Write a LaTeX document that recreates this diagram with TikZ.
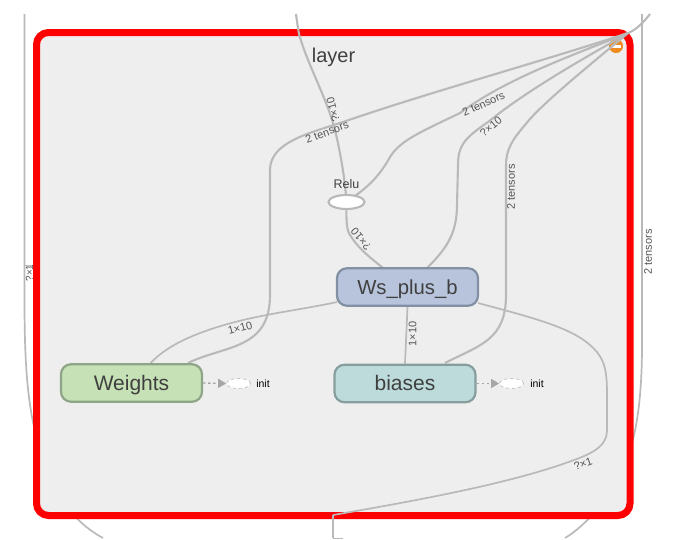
\documentclass[tikz,border=0pt]{standalone}
\usepackage{fontspec}
\setmainfont{Liberation Sans}
\usetikzlibrary{shapes.geometric,arrows.meta}
\definecolor{edgegrey}{HTML}{B9B9B9}
\definecolor{labelgrey}{HTML}{555555}
\definecolor{panel}{HTML}{EEEEEE}
\definecolor{orangemark}{HTML}{EE8A1E}
\definecolor{wsfill}{HTML}{B8C4DC}
\definecolor{wsline}{HTML}{8290A4}
\definecolor{wfill}{HTML}{C5E1B5}
\definecolor{wline}{HTML}{8FA587}
\definecolor{bfill}{HTML}{BDDBDB}
\definecolor{bline}{HTML}{869E9E}
\tikzset{
  x=1pt,y=-1pt,
  opbox/.style={draw,line width=2.2pt,rounded corners=10pt,minimum width=141pt,minimum height=37.5pt,inner sep=0pt,text height=15pt,text depth=1pt,text=black!75,font=\fontsize{21}{21}\selectfont},
  edgeline/.style={draw=edgegrey,line width=2.1pt},
  thinedge/.style={draw=edgegrey,line width=1.7pt},
  edgelabel/.style={text=labelgrey,inner sep=0pt,font=\fontsize{11}{11}\selectfont},
  initellipse/.style={ellipse,draw=black!25,dashed,line width=.7pt,fill=white,minimum width=24pt,minimum height=10pt,inner sep=0pt},
  inittext/.style={inner sep=0pt,text=black,font=\fontsize{10.5}{10.5}\selectfont},
  initarrow/.style={draw=black!35,line width=1.3pt,dash pattern=on 2.5pt off 2.5pt,-{Triangle[length=8pt,width=9pt,fill=black!35]}},
}
\begin{document}
\begin{tikzpicture}
\useasboundingbox (0,0) rectangle (677,539);
% external connector ends
\coordinate (topin) at (296,14);
\coordinate (topright) at (650,14);
\coordinate (rtop) at (642,14);
\coordinate (ltop) at (24.5,14);
\coordinate (hub) at (628,33);
\coordinate (bottomport) at (333,515);
\coordinate (bottomend) at (333,538);
\coordinate (bottomtick) at (343,538);
\coordinate (ltick) at (33,265.5);
\coordinate (ltickb) at (24.5,265.5);
\coordinate (wsleft) at (337,302);
\coordinate (wsright) at (478,303);
% external edges, behind the frame
\draw[thinedge] (ltop) -- (24.5,300) .. controls (24.5,370) and (28,410) .. (40,450)
   .. controls (52,490) and (70,520) .. (103,538);
\draw[thinedge] (rtop) -- (642,345) .. controls (642,395) and (637,432) .. (628,455)
   .. controls (618,485) and (592,522) .. (565,538);
\draw[draw=edgegrey,line width=.8pt] (ltickb) -- (ltick);
\node[edgelabel,rotate=90,font=\fontsize{10}{10}\selectfont] (lbl0) at (29.5,273) {?×1};
\node[edgelabel,rotate=90] (lbl1) at (648,252) {2 tensors};
% frame
\node[draw=red,fill=panel,line width=7pt,rounded corners=12pt,minimum width=593.5pt,minimum height=483pt,inner sep=0pt] (layer) at (333.25,274) {};
\node[inner sep=0pt,text=black!75,font=\fontsize{20}{20}\selectfont] (title) at (333.5,57) {layer};
\node[circle,fill=orangemark,minimum size=14pt,inner sep=0pt] (collapse) at (616,46) {};
\node[fill=white,minimum width=10pt,minimum height=3pt,inner sep=0pt] (minus) at (collapse) {};
% node positions used by the edges
\node[ellipse,minimum width=36pt,minimum height=14pt,inner sep=0pt] (relu) at (346.5,202) {};
\node[opbox,draw=none] (ws) at (407.5,287) {\phantom{x}};
\node[opbox,draw=none] (weights) at (131.5,383) {\phantom{x}};
\node[opbox,draw=none] (biases) at (405,383.5) {\phantom{x}};
% edges inside the frame
\draw[edgeline] (topin) .. controls (297,22) and (298,28) .. (299,34)
   .. controls (308,66) and (326,96) .. (335,130)
   .. controls (341,155) and (345,180) .. (relu.center);
\draw[edgeline] (relu.center) .. controls (346,226) and (347,232) .. (352,238)
   .. controls (360,250) and (372,259) .. (383,268);
\draw[edgeline] (hub) .. controls (540,62) and (430,92) .. (343,122)
   .. controls (310,133) and (270,142) .. (270,170)
   -- (270,295) .. controls (270,350) and (225,345) .. (188,363);
\draw[edgeline] (hub) .. controls (560,60) and (505,80) .. (460,113)
   .. controls (425,130) and (400,140) .. (390,157)
   .. controls (380,175) and (370,185) .. (355,196);
\draw[edgeline] (hub) .. controls (590,55) and (530,88) .. (488,122)
   .. controls (465,138) and (458,145) .. (458,165)
   -- (457,205) .. controls (457,235) and (445,250) .. (427,268);
\draw[edgeline] (hub) .. controls (590,65) and (540,105) .. (525,125)
   .. controls (512,140) and (506,150) .. (506,165)
   -- (506,295) .. controls (506,340) and (480,345) .. (445,363);
\draw[edgeline] (hub) .. controls (636,30) and (644,22) .. (topright);
\draw[thinedge] (weights.north) ++(19,0) .. controls (170,342) and (205,330) .. (235,322)
   .. controls (270,313) and (305,309) .. (wsleft);
\draw[thinedge] (ws.south) -- (biases.north);
\draw[thinedge] (wsright) .. controls (530,317) and (570,327) .. (590,345)
   .. controls (605,358) and (607,370) .. (607,395)
   -- (607,430) .. controls (607,450) and (585,456) .. (560,465)
   .. controls (500,485) and (420,500) .. (bottomport);
\draw[thinedge] (bottomport) -- (bottomend);
\draw[draw=edgegrey,line width=.8pt] (bottomend) -- (bottomtick);
% boxes
\node[opbox,draw=wsline,fill=wsfill,font=\fontsize{20.3}{20.3}\selectfont] at (ws) {Ws\_plus\_b};
\node[opbox,draw=wline,fill=wfill] at (weights) {Weights};
\node[opbox,draw=bline,fill=bfill] at (biases) {biases};
\node[ellipse,draw=edgegrey,fill=white,line width=2.1pt,minimum width=36pt,minimum height=14pt,inner sep=0pt] at (relu) {};
\node[inner sep=0pt,text=black!75,font=\fontsize{12.5}{12.5}\selectfont] (relutext) at (346.5,184) {Relu};
% init nodes
\node[initellipse] (winit) at (238.5,383.5) {};
\node[inittext] (winittext) at (263,384) {init};
\draw[initarrow] (weights.east) -- (winit.west);
\node[initellipse] (binit) at (511.5,383.5) {};
\node[inittext] (binittext) at (537,384) {init};
\draw[initarrow] (biases.east) -- (binit.west);
% edge labels
\node[edgelabel,rotate=105] (e1) at (333,110) {?×10};
\node[edgelabel,rotate=20] (e2) at (327,132) {2 tensors};
\node[edgelabel,rotate=24] (e3) at (483.5,104) {2 tensors};
\node[edgelabel,rotate=40] (e4) at (491,127) {?×10};
\node[edgelabel,rotate=90] (e5) at (511,187) {2 tensors};
\node[edgelabel,rotate=130] (e6) at (361,239) {?×10};
\node[edgelabel,rotate=15] (e7) at (240,328) {1×10};
\node[edgelabel,rotate=90] (e8) at (412.5,334) {1×10};
\node[edgelabel,rotate=20] (e9) at (583,464) {?×1};
\end{tikzpicture}
\end{document}
